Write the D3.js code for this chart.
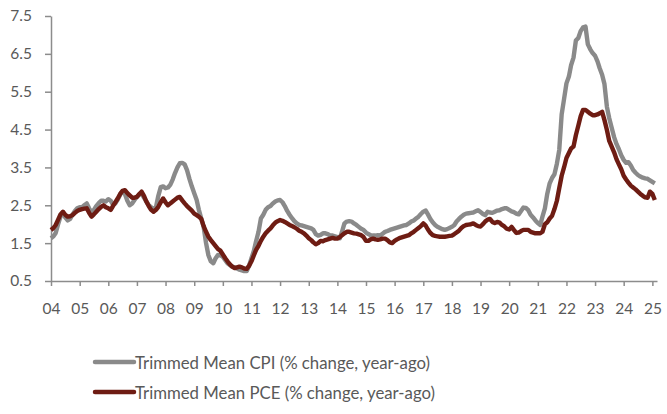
<!DOCTYPE html>
<html>
<head>
<meta charset="utf-8">
<script src="https://cdn.jsdelivr.net/npm/d3@7"></script>
<style>
  html, body { margin: 0; padding: 0; background: #ffffff; }
  svg { display: block; }
  text { font-family: Lato, "Open Sans", sans-serif; fill: #595959; }
</style>
</head>
<body>
<svg id="chart" width="667" height="414"></svg>
<script>
// Monthly series, January 2004 onward (% change, year-ago)
const startYear = 2004;

const cpiValues = [
  // 2004
  1.63, 1.68, 1.77, 2.00, 2.20, 2.30, 2.18, 2.10, 2.14, 2.25, 2.35, 2.42,
  // 2005
  2.45, 2.45, 2.50, 2.55, 2.42, 2.32, 2.38, 2.48, 2.56, 2.62, 2.62, 2.60,
  // 2006
  2.66, 2.62, 2.52, 2.55, 2.65, 2.78, 2.86, 2.80, 2.62, 2.50, 2.55, 2.64,
  // 2007
  2.72, 2.78, 2.82, 2.70, 2.60, 2.50, 2.45, 2.40, 2.45, 2.75, 2.98, 3.00,
  // 2008
  2.95, 2.97, 3.04, 3.18, 3.35, 3.50, 3.61, 3.62, 3.58, 3.43, 3.20, 3.00,
  // 2009
  2.82, 2.64, 2.38, 2.15, 1.93, 1.50, 1.18, 1.02, 0.97, 1.10, 1.19, 1.18,
  // 2010
  1.14, 1.05, 0.97, 0.92, 0.88, 0.86, 0.83, 0.80, 0.78, 0.76, 0.76, 0.90,
  // 2011
  1.10, 1.30, 1.55, 1.80, 2.15, 2.25, 2.38, 2.45, 2.48, 2.55, 2.60, 2.63,
  // 2012
  2.64, 2.58, 2.48, 2.35, 2.25, 2.16, 2.08, 2.02, 1.98, 1.97, 1.95, 1.93,
  // 2013
  1.91, 1.89, 1.85, 1.74, 1.70, 1.72, 1.76, 1.76, 1.74, 1.70, 1.70, 1.68,
  // 2014
  1.66, 1.63, 1.80, 2.02, 2.07, 2.08, 2.07, 2.02, 1.98, 1.93, 1.88, 1.85,
  // 2015
  1.78, 1.74, 1.71, 1.70, 1.70, 1.71, 1.70, 1.75, 1.80, 1.82, 1.85, 1.87,
  // 2016
  1.89, 1.91, 1.93, 1.95, 1.97, 1.98, 2.02, 2.07, 2.10, 2.15, 2.20, 2.27,
  // 2017
  2.33, 2.36, 2.26, 2.14, 2.05, 1.98, 1.93, 1.90, 1.87, 1.85, 1.87, 1.90,
  // 2018
  1.93, 1.98, 2.07, 2.14, 2.20, 2.25, 2.28, 2.29, 2.30, 2.31, 2.34, 2.37,
  // 2019
  2.32, 2.27, 2.24, 2.33, 2.31, 2.30, 2.33, 2.36, 2.37, 2.40, 2.42, 2.42,
  // 2020
  2.38, 2.34, 2.32, 2.28, 2.26, 2.35, 2.44, 2.43, 2.37, 2.25, 2.18, 2.10,
  // 2021
  2.03, 1.98, 2.20, 2.42, 2.80, 3.08, 3.22, 3.32, 3.60, 3.96, 4.90, 5.30,
  // 2022
  5.72, 5.90, 6.20, 6.40, 6.85, 6.92, 7.10, 7.20, 7.22, 6.75, 6.62, 6.52,
  // 2023
  6.45, 6.30, 6.12, 5.95, 5.70, 5.10, 4.80, 4.55, 4.30, 4.12, 3.98, 3.82,
  // 2024
  3.70, 3.62, 3.64, 3.55, 3.43, 3.36, 3.30, 3.26, 3.23, 3.21, 3.20, 3.16,
  // 2025
  3.12, 3.08
];

const pceValues = [
  // 2004
  1.85, 1.90, 1.98, 2.12, 2.26, 2.33, 2.25, 2.20, 2.21, 2.24, 2.30, 2.35,
  // 2005
  2.38, 2.40, 2.41, 2.42, 2.30, 2.20, 2.26, 2.33, 2.40, 2.46, 2.50, 2.45,
  // 2006
  2.42, 2.38, 2.48, 2.58, 2.68, 2.80, 2.88, 2.90, 2.82, 2.76, 2.70, 2.70,
  // 2007
  2.72, 2.80, 2.86, 2.75, 2.60, 2.48, 2.38, 2.33, 2.38, 2.46, 2.58, 2.68,
  // 2008
  2.58, 2.50, 2.55, 2.60, 2.65, 2.70, 2.72, 2.63, 2.55, 2.48, 2.42, 2.36,
  // 2009
  2.28, 2.24, 2.20, 2.14, 1.95, 1.80, 1.67, 1.58, 1.50, 1.42, 1.34, 1.30,
  // 2010
  1.20, 1.10, 1.02, 0.94, 0.88, 0.84, 0.86, 0.88, 0.86, 0.83, 0.82, 0.90,
  // 2011
  1.02, 1.18, 1.32, 1.43, 1.56, 1.67, 1.76, 1.83, 1.89, 1.97, 2.04, 2.08,
  // 2012
  2.11, 2.09, 2.06, 2.02, 1.98, 1.95, 1.92, 1.88, 1.83, 1.80, 1.76, 1.70,
  // 2013
  1.63, 1.58, 1.52, 1.47, 1.50, 1.56, 1.55, 1.58, 1.60, 1.62, 1.64, 1.62,
  // 2014
  1.62, 1.66, 1.71, 1.76, 1.80, 1.80, 1.78, 1.76, 1.75, 1.73, 1.71, 1.66,
  // 2015
  1.56, 1.56, 1.60, 1.62, 1.60, 1.59, 1.60, 1.62, 1.62, 1.58, 1.52, 1.50,
  // 2016
  1.56, 1.60, 1.63, 1.65, 1.67, 1.69, 1.71, 1.76, 1.80, 1.85, 1.90, 1.95,
  // 2017
  2.02, 1.96, 1.86, 1.77, 1.71, 1.69, 1.68, 1.67, 1.67, 1.67, 1.68, 1.69,
  // 2018
  1.70, 1.74, 1.78, 1.83, 1.90, 1.95, 1.98, 1.99, 2.00, 2.02, 1.98, 1.95,
  // 2019
  1.94, 2.00, 2.07, 2.12, 2.14, 2.06, 2.03, 2.06, 2.04, 1.98, 1.94, 1.88,
  // 2020
  1.86, 1.93, 1.85, 1.77, 1.78, 1.82, 1.85, 1.85, 1.85, 1.80, 1.78, 1.76,
  // 2021
  1.76, 1.76, 1.80, 2.00, 2.05, 2.15, 2.22, 2.40, 2.62, 2.95, 3.28, 3.50,
  // 2022
  3.75, 3.88, 4.00, 4.05, 4.35, 4.60, 4.85, 5.02, 5.02, 4.97, 4.92, 4.88,
  // 2023
  4.88, 4.90, 4.93, 4.97, 4.75, 4.49, 4.20, 4.05, 3.90, 3.72, 3.58, 3.45,
  // 2024
  3.28, 3.18, 3.10, 3.02, 2.97, 2.92, 2.86, 2.80, 2.75, 2.71, 2.70, 2.86,
  // 2025
  2.80, 2.64
];

const yTicks = [0.5, 1.5, 2.5, 3.5, 4.5, 5.5, 6.5, 7.5];
const yearTicks = d3.range(2004, 2026);

const seriesNames = [
  "Trimmed Mean CPI (% change, year-ago)",
  "Trimmed Mean PCE (% change, year-ago)"
];
const seriesColors = ["#8a8a8a", "#6e1c13"];

// ---- layout ----
const svg = d3.select("#chart");
const plotBottom = 281;

const x = d3.scaleTime()
  .domain([new Date(2004, 0, 1), new Date(2025, 2, 1)])
  .range([51, 657]);

const y = d3.scaleLinear()
  .domain([0.5, 7.5])
  .range([plotBottom, 16]);

const toSeries = vals => vals.map((v, i) => ({
  date: new Date(startYear + Math.floor(i / 12), i % 12, 1),
  value: v
}));
const series = [toSeries(cpiValues), toSeries(pceValues)];

// ---- axes ----
const axisColor = "#8c8c8c";

const yAxis = d3.axisLeft(y)
  .tickValues(yTicks)
  .tickFormat(d3.format(".1f"))
  .tickSizeInner(6)
  .tickSizeOuter(0)
  .tickPadding(13);

const gy = svg.append("g")
  .attr("transform", `translate(${x.range()[0]},0)`)
  .call(yAxis);
gy.select(".domain").attr("stroke", axisColor).attr("stroke-width", 1.5);
gy.selectAll(".tick line").attr("stroke", axisColor).attr("stroke-width", 1.5);
gy.selectAll(".tick text")
  .attr("font-size", 15.5)
  .attr("fill", "#595959")
  .style("font-family", "Lato, 'Open Sans', sans-serif");

const xAxis = d3.axisBottom(x)
  .tickValues(yearTicks.map(yr => new Date(yr, 0, 1)))
  .tickFormat(d3.timeFormat("%y"))
  .tickSizeInner(5)
  .tickSizeOuter(0);

const gx = svg.append("g")
  .attr("transform", `translate(0,${plotBottom})`)
  .call(xAxis);
gx.select(".domain").attr("stroke", axisColor).attr("stroke-width", 1.5);
gx.selectAll(".tick line").attr("stroke", axisColor).attr("stroke-width", 1.5);
gx.selectAll(".tick text")
  .attr("y", 33)
  .attr("dy", null)
  .attr("font-size", 15.5)
  .attr("fill", "#595959")
  .style("font-family", "Lato, 'Open Sans', sans-serif");

// ---- lines ----
const line = d3.line()
  .x(d => x(d.date))
  .y(d => y(d.value));

svg.append("g")
  .selectAll("path")
  .data(series)
  .join("path")
  .attr("d", line)
  .attr("fill", "none")
  .attr("stroke", (d, i) => seriesColors[i])
  .attr("stroke-width", 4.4)
  .attr("stroke-linejoin", "round")
  .attr("stroke-linecap", "butt");

// ---- legend ----
const legend = svg.append("g").attr("transform", "translate(95,362)");
const rows = legend.selectAll("g")
  .data(seriesNames)
  .join("g")
  .attr("transform", (d, i) => `translate(0,${i * 30})`);

rows.append("line")
  .attr("x1", 0).attr("x2", 39)
  .attr("y1", 0).attr("y2", 0)
  .attr("stroke", (d, i) => seriesColors[i])
  .attr("stroke-width", 4.5)
  .attr("stroke-linecap", "round");

// Legend labels use a slightly condensed setting so each line spans ~295px
rows.append("text")
  .attr("x", 40)
  .attr("y", 6.5)
  .attr("font-size", 18)
  .attr("fill", "#595959")
  .attr("textLength", (d, i) => i === 0 ? 295 : 300)
  .attr("lengthAdjust", "spacingAndGlyphs")
  .text(d => d);
</script>
</body>
</html>
